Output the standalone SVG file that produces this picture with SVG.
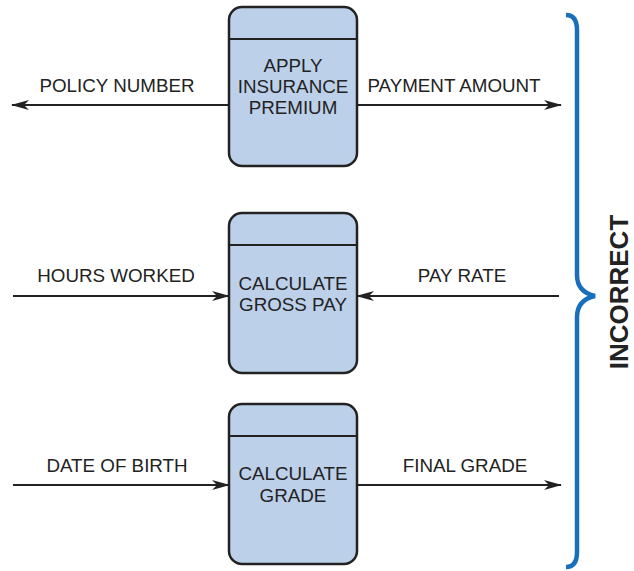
<svg xmlns="http://www.w3.org/2000/svg" width="634" height="571" viewBox="0 0 634 571">
<style>
.box{fill:#bdd0ea;stroke:#222;stroke-width:2.5}
.div{stroke:#222;stroke-width:2}
.lbl{font-family:"Liberation Sans",Arial,sans-serif;font-size:18.8px;fill:#222}
.ctr{text-anchor:middle}
.ln{stroke:#222;stroke-width:2;fill:none}
</style>
<defs>
<marker id="ah" markerWidth="18" markerHeight="10" refX="17" refY="5" orient="auto" markerUnits="userSpaceOnUse">
<path d="M0,0 L18,5 L0,10 L5,5 Z" fill="#222"/>
</marker>
</defs>
<rect width="634" height="571" fill="#fff"/>
<g id="connectors">
<line class="ln" x1="229" y1="105" x2="12" y2="105" marker-end="url(#ah)"/>
<line class="ln" x1="357" y1="105" x2="561" y2="105" marker-end="url(#ah)"/>
<line class="ln" x1="13" y1="296" x2="229" y2="296" marker-end="url(#ah)"/>
<line class="ln" x1="559" y1="296" x2="357" y2="296" marker-end="url(#ah)"/>
<line class="ln" x1="13" y1="485" x2="229" y2="485" marker-end="url(#ah)"/>
<line class="ln" x1="357" y1="485" x2="561" y2="485" marker-end="url(#ah)"/>
</g>
<g id="node-apply">
<rect class="box" x="229" y="7" width="128" height="159" rx="13"/>
<line class="div" x1="229" y1="39" x2="357" y2="39"/>
<text class="lbl ctr" x="293" y="72">APPLY</text>
<text class="lbl ctr" x="293" y="93">INSURANCE</text>
<text class="lbl ctr" x="293" y="114">PREMIUM</text>
</g>
<g id="node-gross">
<rect class="box" x="229" y="213" width="128" height="160" rx="13"/>
<line class="div" x1="229" y1="245" x2="357" y2="245"/>
<text class="lbl ctr" x="293" y="290">CALCULATE</text>
<text class="lbl ctr" x="293" y="311">GROSS PAY</text>
</g>
<g id="node-grade">
<rect class="box" x="229" y="404" width="128" height="160" rx="13"/>
<line class="div" x1="229" y1="436" x2="357" y2="436"/>
<text class="lbl ctr" x="293" y="480">CALCULATE</text>
<text class="lbl ctr" x="293" y="502">GRADE</text>
</g>
<g id="labels">
<text class="lbl ctr" x="117" y="92">POLICY NUMBER</text>
<text class="lbl ctr" x="454" y="92">PAYMENT AMOUNT</text>
<text class="lbl ctr" x="116" y="282">HOURS WORKED</text>
<text class="lbl ctr" x="462" y="282">PAY RATE</text>
<text class="lbl ctr" x="117" y="472">DATE OF BIRTH</text>
<text class="lbl ctr" x="465" y="472">FINAL GRADE</text>
</g>
<g id="brace">
<path d="M566,15 Q577,15 577,30 L577,275 Q577,292 595,296 Q577,300 577,317 L577,552 Q577,567 566,567" fill="none" stroke="#1a6fba" stroke-width="4.5"/>
<text x="619" y="292" transform="rotate(-90 619 292)" font-family="Liberation Sans,Arial,sans-serif" font-weight="bold" font-size="26" fill="#222" text-anchor="middle" dominant-baseline="central">INCORRECT</text>
</g>
</svg>
